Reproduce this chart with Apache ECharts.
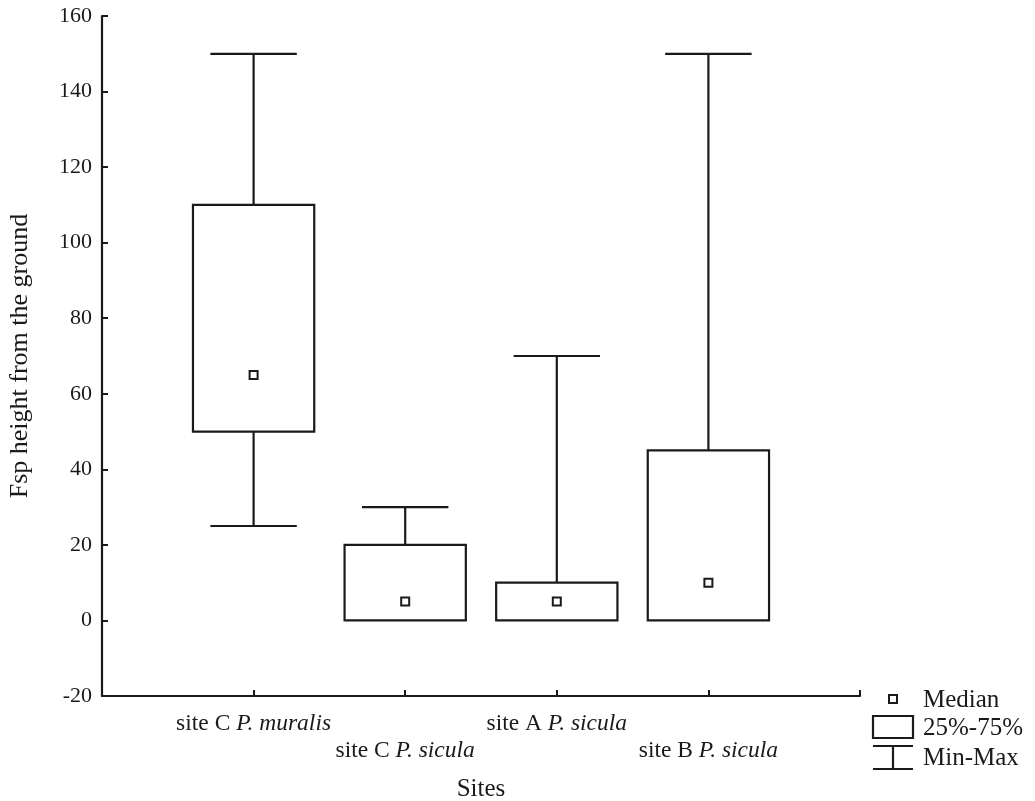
<!DOCTYPE html>
<html>
<head>
<meta charset="utf-8">
<script src="https://cdn.jsdelivr.net/npm/echarts@6/dist/echarts.min.js"></script>
<style>
  html, body { margin: 0; padding: 0; background: #fff; }
  #chart { width: 1035px; height: 801px; }
</style>
</head>
<body>
<div id="chart"></div>
<script>
// sites (x positions 1..4 on the axis)
var sites = ['site C ', 'site C ', 'site A ', 'site B '];
var species = ['P. muralis', 'P. sicula', 'P. sicula', 'P. sicula'];
// box statistics per site
var minVals    = [25, 0, 0, 0];
var q1Vals     = [50, 0, 0, 0];
var medianVals = [65, 5, 5, 10];
var q3Vals     = [110, 20, 10, 45];
var maxVals    = [150, 30, 70, 150];
var yTicks = [-20, 0, 20, 40, 60, 80, 100, 120, 140, 160];

var FONT = '"Liberation Serif", "DejaVu Serif", serif';

var boxData = sites.map(function (s, i) {
  return [i + 1, minVals[i], q1Vals[i], medianVals[i], q3Vals[i], maxVals[i]];
});

function renderBox(params, api) {
  var x = api.value(0);
  var band = api.size([1, 0])[0];
  var boxW = band * 0.8;
  var capW = band * 0.57;
  var pMin = api.coord([x, api.value(1)]);
  var pQ1 = api.coord([x, api.value(2)]);
  var pMed = api.coord([x, api.value(3)]);
  var pQ3 = api.coord([x, api.value(4)]);
  var pMax = api.coord([x, api.value(5)]);
  var cx = pMin[0];
  var line = { stroke: '#1a1a1a', lineWidth: 2.2, fill: null };
  var children = [];
  if (api.value(5) > api.value(4)) {
    children.push({ type: 'line', shape: { x1: cx, y1: pMax[1], x2: cx, y2: pQ3[1] }, style: line });
    children.push({ type: 'line', shape: { x1: cx - capW / 2, y1: pMax[1], x2: cx + capW / 2, y2: pMax[1] }, style: line });
  }
  if (api.value(1) < api.value(2)) {
    children.push({ type: 'line', shape: { x1: cx, y1: pQ1[1], x2: cx, y2: pMin[1] }, style: line });
    children.push({ type: 'line', shape: { x1: cx - capW / 2, y1: pMin[1], x2: cx + capW / 2, y2: pMin[1] }, style: line });
  }
  children.push({
    type: 'rect',
    shape: { x: cx - boxW / 2, y: pQ3[1], width: boxW, height: pQ1[1] - pQ3[1] },
    style: { stroke: '#1a1a1a', lineWidth: 2.2, fill: '#fff' }
  });
  children.push({
    type: 'rect',
    shape: { x: cx - 4, y: pMed[1] - 4, width: 8, height: 8 },
    style: { stroke: '#1a1a1a', lineWidth: 2, fill: '#fff' }
  });
  return { type: 'group', children: children };
}

var chart = echarts.init(document.getElementById('chart'));

chart.setOption({
  backgroundColor: '#fff',
  animation: false,
  grid: { left: 102, right: 175, top: 16, bottom: 105, containLabel: false, outerBoundsMode: 'none' },
  xAxis: {
    type: 'value',
    min: 0,
    max: 5,
    interval: 1,
    name: 'Sites',
    nameLocation: 'middle',
    nameGap: 81,
    nameTextStyle: { fontFamily: FONT, fontSize: 25, color: '#1a1a1a' },
    axisLine: { onZero: false, lineStyle: { color: '#1a1a1a', width: 2.2 } },
    axisTick: { inside: true, length: 6, lineStyle: { color: '#1a1a1a', width: 2 } },
    splitLine: { show: false },
    axisLabel: {
      margin: 14,
      fontFamily: FONT,
      fontSize: 23.5,
      color: '#1a1a1a',
      lineHeight: 27,
      formatter: function (v) {
        var i = Math.round(v) - 1;
        if (i < 0 || i >= sites.length) return '';
        var txt = '{a|' + sites[i] + '}{b|' + species[i] + '}';
        return i % 2 === 1 ? '{a| }\n' + txt : txt;
      },
      rich: {
        a: { fontFamily: FONT, fontSize: 23.5, color: '#1a1a1a', lineHeight: 27 },
        b: { fontFamily: FONT, fontSize: 23.5, color: '#1a1a1a', fontStyle: 'italic', lineHeight: 27 }
      }
    }
  },
  yAxis: {
    type: 'value',
    min: yTicks[0],
    max: yTicks[yTicks.length - 1],
    interval: 20,
    name: 'Fsp height from the ground',
    nameLocation: 'middle',
    nameRotate: 90,
    nameGap: 69,
    nameTextStyle: { fontFamily: FONT, fontSize: 26, color: '#1a1a1a' },
    axisLine: { show: true, lineStyle: { color: '#1a1a1a', width: 2.2 } },
    axisTick: { show: true, inside: true, length: 6, lineStyle: { color: '#1a1a1a', width: 2 } },
    splitLine: { show: false },
    axisLabel: { margin: 10, fontFamily: FONT, fontSize: 22, color: '#1a1a1a' }
  },
  series: [{
    type: 'custom',
    renderItem: renderBox,
    data: boxData,
    encode: { x: 0, y: [1, 2, 3, 4, 5] }
  }],
  graphic: [
    { type: 'rect', shape: { x: 889, y: 695, width: 8, height: 8 }, style: { stroke: '#1a1a1a', lineWidth: 2, fill: '#fff' } },
    { type: 'text', x: 923, y: 700, style: { text: 'Median', font: '25px ' + FONT, fill: '#1a1a1a', verticalAlign: 'middle' } },
    { type: 'rect', shape: { x: 873, y: 716, width: 40, height: 22 }, style: { stroke: '#1a1a1a', lineWidth: 2.2, fill: '#fff' } },
    { type: 'text', x: 923, y: 728, style: { text: '25%-75%', font: '25px ' + FONT, fill: '#1a1a1a', verticalAlign: 'middle' } },
    { type: 'line', shape: { x1: 873, y1: 746, x2: 913, y2: 746 }, style: { stroke: '#1a1a1a', lineWidth: 2.2 } },
    { type: 'line', shape: { x1: 893, y1: 746, x2: 893, y2: 769 }, style: { stroke: '#1a1a1a', lineWidth: 2.2 } },
    { type: 'line', shape: { x1: 873, y1: 769, x2: 913, y2: 769 }, style: { stroke: '#1a1a1a', lineWidth: 2.2 } },
    { type: 'text', x: 923, y: 758, style: { text: 'Min-Max', font: '25px ' + FONT, fill: '#1a1a1a', verticalAlign: 'middle' } }
  ]
});
</script>
</body>
</html>
